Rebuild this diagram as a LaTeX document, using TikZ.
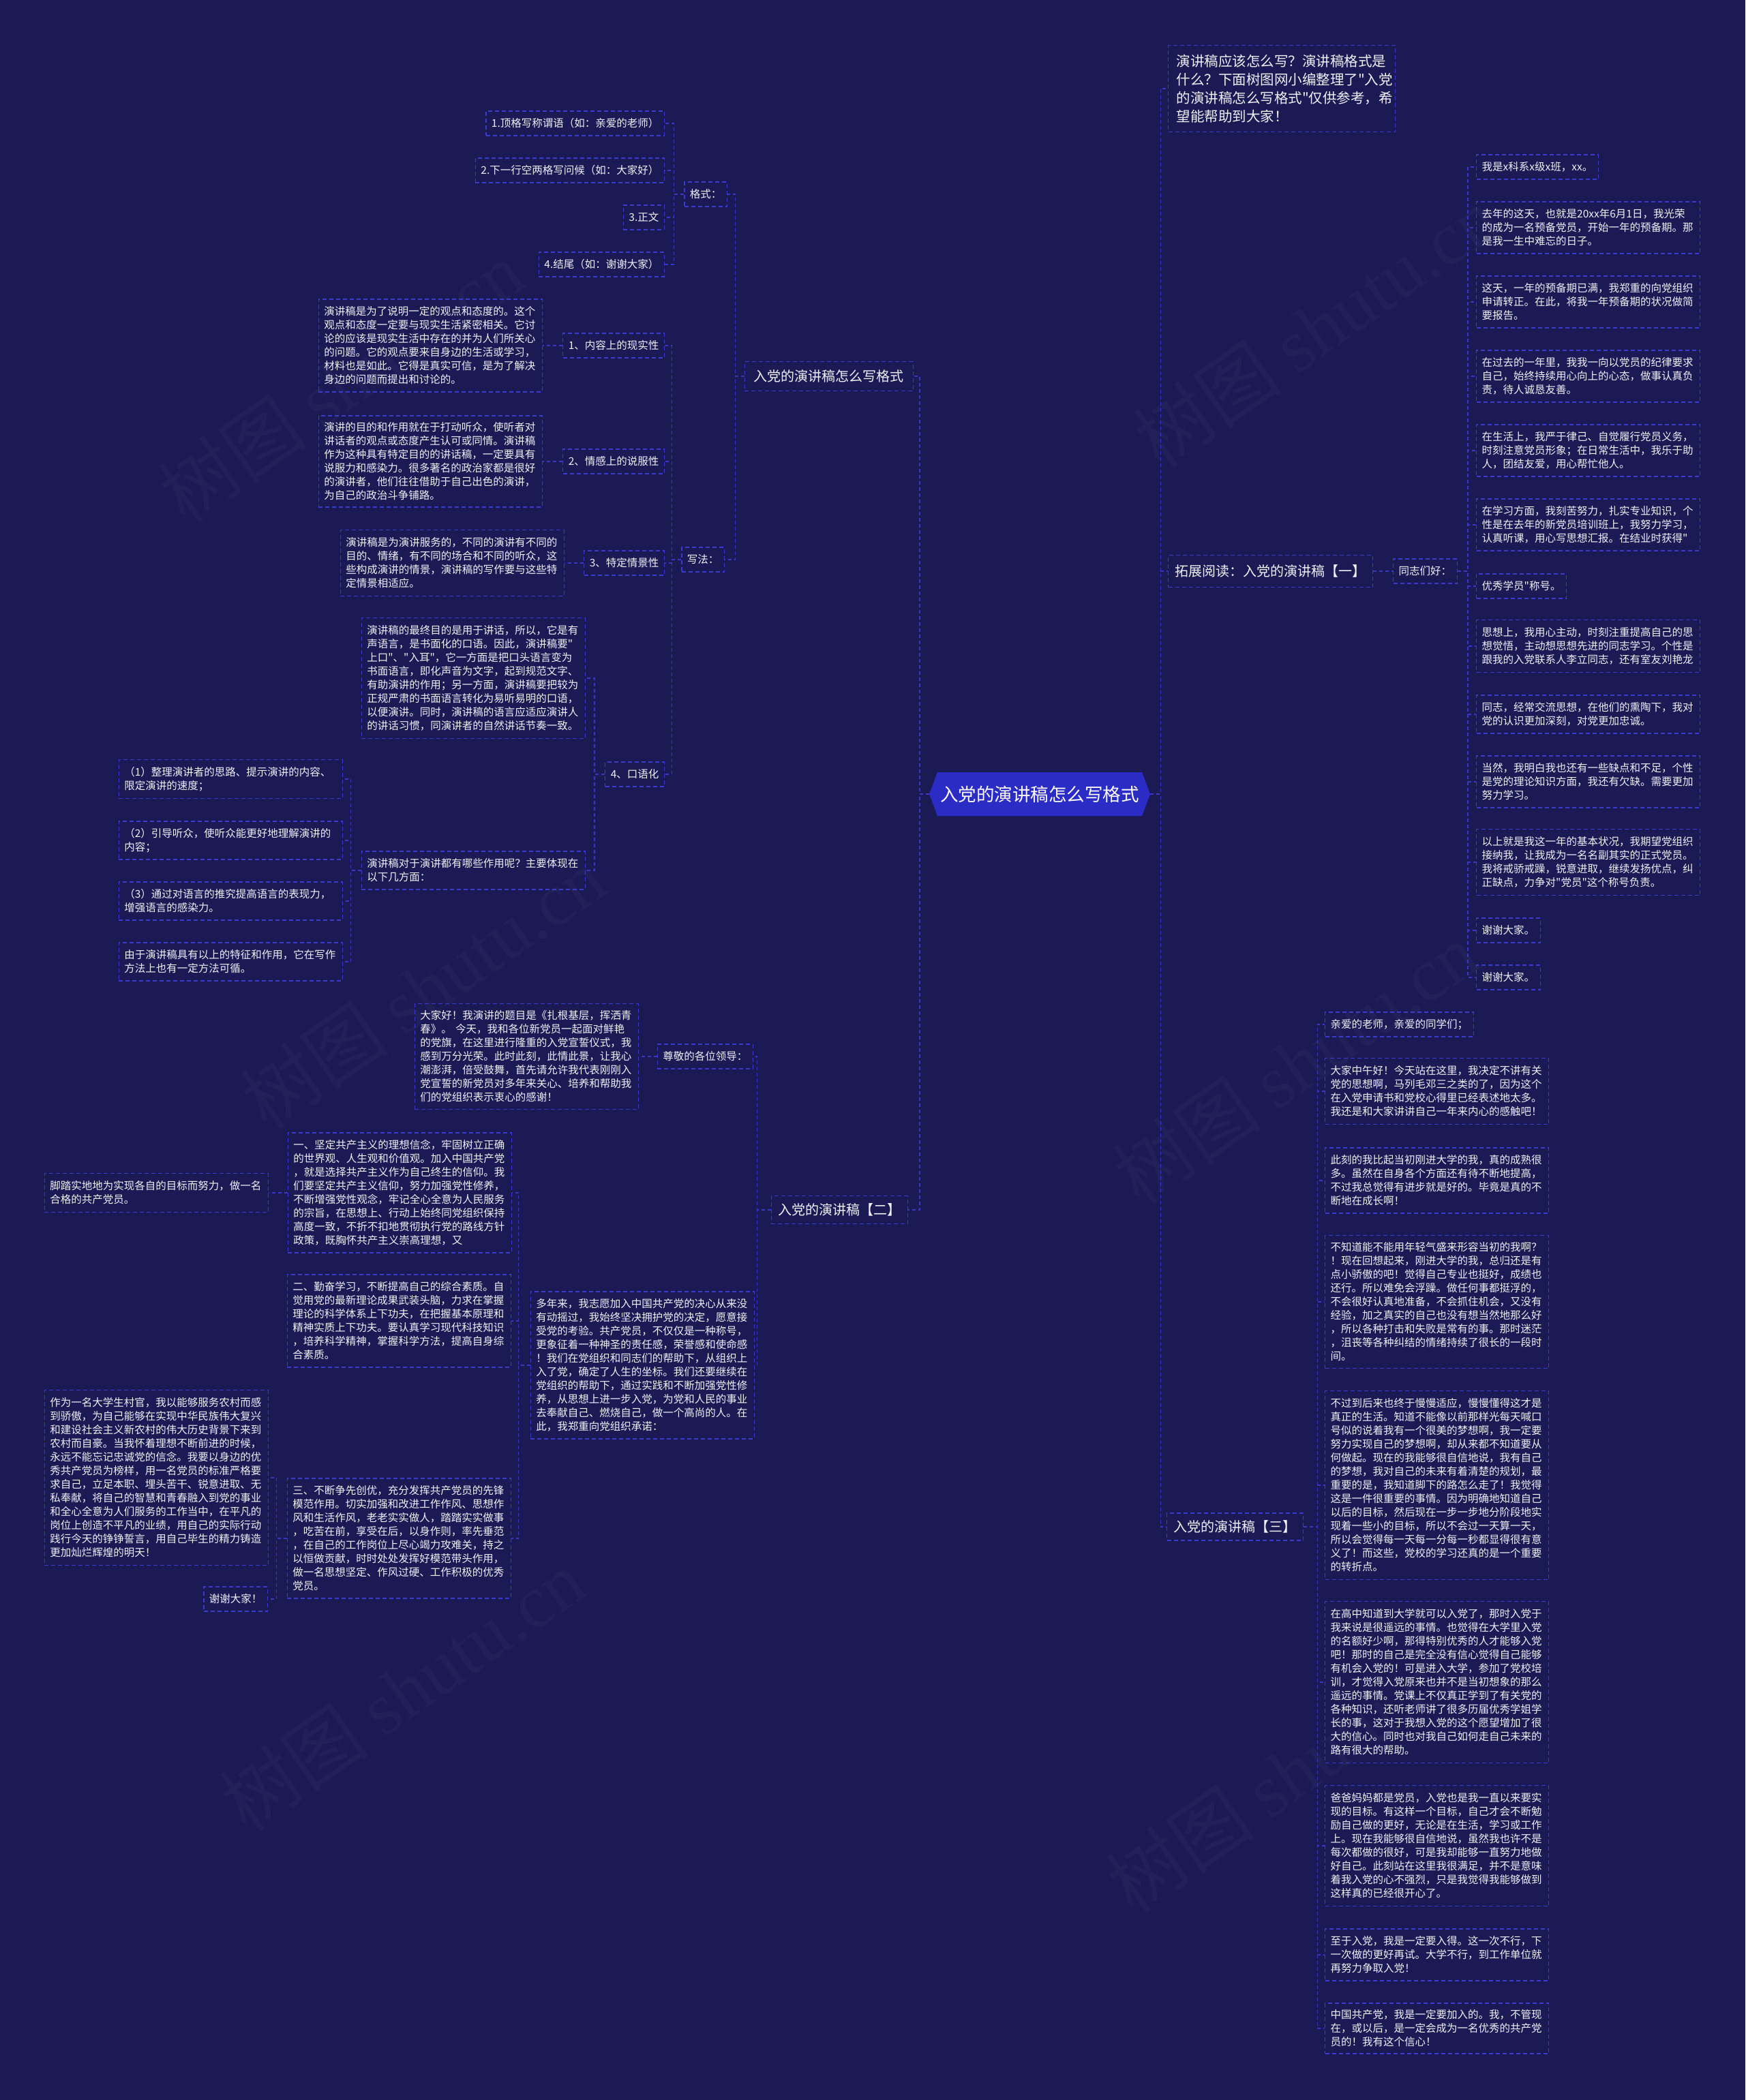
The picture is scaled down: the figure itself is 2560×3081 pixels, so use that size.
\documentclass[tikz,border=0pt]{standalone}
\usepackage{fontspec}
\setmainfont{Noto Sans CJK SC}[Ligatures=TeXOff]
\newfontfamily\wmlatin{Liberation Serif}
\usetikzlibrary{shapes.symbols}
\definecolor{bgc}{HTML}{1B1A55}
\definecolor{boxc}{HTML}{3B3BCF}
\definecolor{linec}{HTML}{3838C4}
\definecolor{txtc}{HTML}{F0F0F6}
\definecolor{ctrfill}{HTML}{2B2BC6}
\tikzset{
 tbox/.style={draw=boxc, line width=1.3pt, dash pattern=on 6pt off 4pt, text=txtc, inner xsep=8pt, inner ysep=3pt, font=\fontsize{15.5pt}{20pt}\selectfont, align=left},
 lbox/.style={tbox, anchor=east},
 rbox/.style={tbox, anchor=west},
 para/.style={text width=312pt, minimum height=#1},
 one/.style={minimum height=36pt},
 big/.style={font=\fontsize{20pt}{26pt}\selectfont, inner xsep=10pt},
 conn/.style={draw=linec, line width=1.4pt, dash pattern=on 5pt off 4pt},
 wm/.style={text=white, text opacity=0.028, rotate=35, font=\fontsize{110pt}{110pt}\selectfont}
}
\begin{document}
\begin{tikzpicture}[x=1pt,y=-1pt]
\fill[bgc] (0,0) rectangle (2560,3081);
\path[use as bounding box] (0,0) rectangle (2560,3081);
% watermarks
\node[wm] (wm1) at (500,560) {树图 {\wmlatin shutu.cn}};
\node[wm] (wm2) at (1930,480) {树图 {\wmlatin shutu.cn}};
\node[wm] (wm3) at (620,1450) {树图 {\wmlatin shutu.cn}};
\node[wm] (wm4) at (1900,1560) {树图 {\wmlatin shutu.cn}};
\node[wm] (wm5) at (590,2480) {树图 {\wmlatin shutu.cn}};
\node[wm] (wm6) at (1890,2600) {树图 {\wmlatin shutu.cn}};

% center
\node[signal, signal to=west and east, signal pointer angle=139, fill=ctrfill, draw=none, text=white, font=\fontsize{26.5pt}{30pt}\selectfont, minimum width=324pt, minimum height=64pt, inner xsep=2pt] (C) at (1525,1165) {入党的演讲稿怎么写格式};

% ===== left branch 1 =====
\node[lbox,big,minimum height=43pt,minimum width=247pt] (A1) at (1340,552) {入党的演讲稿怎么写格式};
\node[lbox,one] (F) at (1067,285) {格式：};
\node[lbox,one] (F1) at (975,181) {1.顶格写称谓语（如：亲爱的老师）};
\node[lbox,one] (F2) at (975,250) {2.下一行空两格写问候（如：大家好）};
\node[lbox,one] (F3) at (975,319) {3.正文};
\node[lbox,one] (F4) at (975,388) {4.结尾（如：谢谢大家）};
\node[lbox,one] (W) at (1063,821) {写法：};
\node[lbox,one] (W1) at (975,507) {1、内容上的现实性};
\node[lbox,para=136pt] (T1) at (796,507) {演讲稿是为了说明一定的观点和态度的。这个\\观点和态度一定要与现实生活紧密相关。它讨\\论的应该是现实生活中存在的并为人们所关心\\的问题。它的观点要来自身边的生活或学习，\\材料也是如此。它得是真实可信，是为了解决\\身边的问题而提出和讨论的。};
\node[lbox,one] (W2) at (975,677) {2、情感上的说服性};
\node[lbox,para=134pt] (T2) at (796,677) {演讲的目的和作用就在于打动听众，使听者对\\讲话者的观点或态度产生认可或同情。演讲稿\\作为这种具有特定目的的讲话稿，一定要具有\\说服力和感染力。很多著名的政治家都是很好\\的演讲者，他们往往借助于自己出色的演讲，\\为自己的政治斗争铺路。};
\node[lbox,one] (W3) at (975,826) {3、特定情景性};
\node[lbox,para=97pt] (T3) at (828,826) {演讲稿是为演讲服务的，不同的演讲有不同的\\目的、情绪，有不同的场合和不同的听众，这\\些构成演讲的情景，演讲稿的写作要与这些特\\定情景相适应。};
\node[lbox,one] (W4) at (975,1136) {4、口语化};
\node[lbox,para=177pt] (T4a) at (859,995) {演讲稿的最终目的是用于讲话，所以，它是有\\声语言，是书面化的口语。因此，演讲稿要"\\上口"、"入耳"，它一方面是把口头语言变为\\书面语言，即化声音为文字，起到规范文字、\\有助演讲的作用；另一方面，演讲稿要把较为\\正规严肃的书面语言转化为易听易明的口语，\\以便演讲。同时，演讲稿的语言应适应演讲人\\的讲话习惯，同演讲者的自然讲话节奏一致。};
\node[lbox,para=56pt] (T4b) at (859,1277) {演讲稿对于演讲都有哪些作用呢？主要体现在\\以下几方面：};
\node[lbox,para=57pt] (U1) at (503,1143) {（1）整理演讲者的思路、提示演讲的内容、\\限定演讲的速度；};
\node[lbox,para=56pt] (U2) at (503,1233) {（2）引导听众，使听众能更好地理解演讲的\\内容；};
\node[lbox,para=56pt] (U3) at (503,1322) {（3）通过对语言的推究提高语言的表现力，\\增强语言的感染力。};
\node[lbox,para=56pt] (U4) at (503,1411) {由于演讲稿具有以上的特征和作用，它在写作\\方法上也有一定方法可循。};

% ===== left branch 2 =====
\node[lbox,big,minimum height=41pt] (A2) at (1332,1775) {入党的演讲稿【二】};
\node[lbox,one] (R) at (1105,1550) {尊敬的各位领导：};
\node[lbox,para=155pt] (S) at (937,1550) {大家好！我演讲的题目是《扎根基层，挥洒青\\春》。 今天，我和各位新党员一起面对鲜艳\\的党旗，在这里进行隆重的入党宣誓仪式，我\\感到万分光荣。此时此刻，此情此景，让我心\\潮澎湃，倍受鼓舞，首先请允许我代表刚刚入\\党宣誓的新党员对多年来关心、培养和帮助我\\们的党组织表示衷心的感谢！};
\node[lbox,para=216pt] (M) at (1107,2003) {多年来，我志愿加入中国共产党的决心从来没\\有动摇过，我始终坚决拥护党的决定，愿意接\\受党的考验。共产党员，不仅仅是一种称号，\\更象征着一种神圣的责任感，荣誉感和使命感\\！我们在党组织和同志们的帮助下，从组织上\\入了党，确定了人生的坐标。我们还要继续在\\党组织的帮助下，通过实践和不断加强党性修\\养，从思想上进一步入党，为党和人民的事业\\去奉献自己、燃烧自己，做一个高尚的人。在\\此，我郑重向党组织承诺：};
\node[lbox,para=176pt] (M1) at (751,1750) {一、坚定共产主义的理想信念，牢固树立正确\\的世界观、人生观和价值观。加入中国共产党\\，就是选择共产主义作为自己终生的信仰。我\\们要坚定共产主义信仰，努力加强党性修养，\\不断增强党性观念，牢记全心全意为人民服务\\的宗旨，在思想上、行动上始终同党组织保持\\高度一致，不折不扣地贯彻执行党的路线方针\\政策，既胸怀共产主义崇高理想，又};
\node[lbox,para=57pt] (M1a) at (394,1750) {脚踏实地地为实现各自的目标而努力，做一名\\合格的共产党员。};
\node[lbox,para=136pt] (M2) at (750,1938) {二、勤奋学习，不断提高自己的综合素质。自\\觉用党的最新理论成果武装头脑，力求在掌握\\理论的科学体系上下功夫，在把握基本原理和\\精神实质上下功夫。要认真学习现代科技知识\\，培养科学精神，掌握科学方法，提高自身综\\合素质。};
\node[lbox,para=176pt] (M3) at (750,2257) {三、不断争先创优，充分发挥共产党员的先锋\\模范作用。切实加强和改进工作作风、思想作\\风和生活作风，老老实实做人，踏踏实实做事\\，吃苦在前，享受在后，以身作则，率先垂范\\，在自己的工作岗位上尽心竭力攻难关，持之\\以恒做贡献，时时处处发挥好模范带头作用，\\做一名思想坚定、作风过硬、工作积极的优秀\\党员。};
\node[lbox,para=257pt] (M3a) at (394,2168) {作为一名大学生村官，我以能够服务农村而感\\到骄傲，为自己能够在实现中华民族伟大复兴\\和建设社会主义新农村的伟大历史背景下来到\\农村而自豪。当我怀着理想不断前进的时候，\\永远不能忘记忠诚党的信念。我要以身边的优\\秀共产党员为榜样，用一名党员的标准严格要\\求自己，立足本职、埋头苦干、锐意进取、无\\私奉献，将自己的智慧和青春融入到党的事业\\和全心全意为人们服务的工作当中，在平凡的\\岗位上创造不平凡的业绩，用自己的实际行动\\践行今天的铮铮誓言，用自己毕生的精力铸造\\更加灿烂辉煌的明天！};
\node[lbox,one] (M3b) at (393,2346) {谢谢大家！};

% ===== right side =====
\node[rbox,minimum height=127pt,text width=309pt,inner xsep=12pt,font=\fontsize{20.5pt}{26.8pt}\selectfont] (B0) at (1713,130) {演讲稿应该怎么写？演讲稿格式是\\什么？下面树图网小编整理了"入党\\的演讲稿怎么写格式"仅供参考，希\\望能帮助到大家！};
\node[rbox,big,minimum height=47pt] (B1) at (1713,838) {拓展阅读：入党的演讲稿【一】};
\node[rbox,one] (G) at (2043,838) {同志们好：};
\node[rbox,one] (c1) at (2165,245) {我是x科系x级x班，xx。};
\node[rbox,para=76pt] (c2) at (2165,334) {去年的这天，也就是20xx年6月1日，我光荣\\的成为一名预备党员，开始一年的预备期。那\\是我一生中难忘的日子。};
\node[rbox,para=76pt] (c3) at (2165,443) {这天，一年的预备期已满，我郑重的向党组织\\申请转正。在此，将我一年预备期的状况做简\\要报告。};
\node[rbox,para=76pt] (c4) at (2165,552) {在过去的一年里，我我一向以党员的纪律要求\\自己，始终持续用心向上的心态，做事认真负\\责，待人诚恳友善。};
\node[rbox,para=76pt] (c5) at (2165,661) {在生活上，我严于律己、自觉履行党员义务，\\时刻注意党员形象；在日常生活中，我乐于助\\人，团结友爱，用心帮忙他人。};
\node[rbox,para=76pt] (c6) at (2165,770) {在学习方面，我刻苦努力，扎实专业知识，个\\性是在去年的新党员培训班上，我努力学习，\\认真听课，用心写思想汇报。在结业时获得"};
\node[rbox,one] (c7) at (2165,860) {优秀学员"称号。};
\node[rbox,para=77pt] (c8) at (2165,948) {思想上，我用心主动，时刻注重提高自己的思\\想觉悟，主动想思想先进的同志学习。个性是\\跟我的入党联系人李立同志，还有室友刘艳龙};
\node[rbox,para=56pt] (c9) at (2165,1048) {同志，经常交流思想，在他们的熏陶下，我对\\党的认识更加深刻，对党更加忠诚。};
\node[rbox,para=76pt] (c10) at (2165,1147) {当然，我明白我也还有一些缺点和不足，个性\\是党的理论知识方面，我还有欠缺。需要更加\\努力学习。};
\node[rbox,para=97pt] (c11) at (2165,1265) {以上就是我这一年的基本状况，我期望党组织\\接纳我，让我成为一名名副其实的正式党员。\\我将戒骄戒躁，锐意进取，继续发扬优点，纠\\正缺点，力争对"党员"这个称号负责。};
\node[rbox,one] (c12) at (2165,1365) {谢谢大家。};
\node[rbox,one] (c13) at (2165,1434) {谢谢大家。};

\node[rbox,big,minimum height=40pt] (B2) at (1711,2240) {入党的演讲稿【三】};
\node[rbox,one] (d1) at (1943,1503) {亲爱的老师，亲爱的同学们；};
\node[rbox,para=97pt] (d2) at (1943,1601) {大家中午好！今天站在这里，我决定不讲有关\\党的思想啊，马列毛邓三之类的了，因为这个\\在入党申请书和党校心得里已经表述地太多。\\我还是和大家讲讲自己一年来内心的感触吧！};
\node[rbox,para=96pt] (d3) at (1943,1732) {此刻的我比起当初刚进大学的我，真的成熟很\\多。虽然在自身各个方面还有待不断地提高，\\不过我总觉得有进步就是好的。毕竟是真的不\\断地在成长啊！};
\node[rbox,para=195pt] (d4) at (1943,1910) {不知道能不能用年轻气盛来形容当初的我啊？\\！现在回想起来，刚进大学的我，总归还是有\\点小骄傲的吧！觉得自己专业也挺好，成绩也\\还行。所以难免会浮躁。做任何事都挺浮的，\\不会很好认真地准备，不会抓住机会，又没有\\经验，加之真实的自己也没有想当然地那么好\\，所以各种打击和失败是常有的事。那时迷茫\\，沮丧等各种纠结的情绪持续了很长的一段时\\间。};
\node[rbox,para=277pt] (d5) at (1943,2179) {不过到后来也终于慢慢适应，慢慢懂得这才是\\真正的生活。知道不能像以前那样光每天喊口\\号似的说着我有一个很美的梦想啊，我一定要\\努力实现自己的梦想啊，却从来都不知道要从\\何做起。现在的我能够很自信地说，我有自己\\的梦想，我对自己的未来有着清楚的规划，最\\重要的是，我知道脚下的路怎么走了！我觉得\\这是一件很重要的事情。因为明确地知道自己\\以后的目标，然后现在一步一步地分阶段地实\\现着一些小的目标，所以不会过一天算一天，\\所以会觉得每一天每一分每一秒都显得很有意\\义了！而这些，党校的学习还真的是一个重要\\的转折点。};
\node[rbox,para=237pt] (d6) at (1943,2468) {在高中知道到大学就可以入党了，那时入党于\\我来说是很遥远的事情。也觉得在大学里入党\\的名额好少啊，那得特别优秀的人才能够入党\\吧！那时的自己是完全没有信心觉得自己能够\\有机会入党的！可是进入大学，参加了党校培\\训，才觉得入党原来也并不是当初想象的那么\\遥远的事情。党课上不仅真正学到了有关党的\\各种知识，还听老师讲了很多历届优秀学姐学\\长的事，这对于我想入党的这个愿望增加了很\\大的信心。同时也对我自己如何走自己未来的\\路有很大的帮助。};
\node[rbox,para=177pt] (d7) at (1943,2708) {爸爸妈妈都是党员，入党也是我一直以来要实\\现的目标。有这样一个目标，自己才会不断勉\\励自己做的更好，无论是在生活，学习或工作\\上。现在我能够很自信地说，虽然我也许不是\\每次都做的很好，可是我却能够一直努力地做\\好自己。此刻站在这里我很满足，并不是意味\\着我入党的心不强烈，只是我觉得我能够做到\\这样真的已经很开心了。};
\node[rbox,para=76pt] (d8) at (1943,2868) {至于入党，我是一定要入得。这一次不行，下\\一次做的更好再试。大学不行，到工作单位就\\再努力争取入党！};
\node[rbox,para=74pt] (d9) at (1943,2976) {中国共产党，我是一定要加入的。我，不管现\\在，或以后，是一定会成为一名优秀的共产党\\员的！我有这个信心！};

% ===== connectors =====
\foreach \n in {A1,A2} \draw[conn] (C.west) -- ++(-14,0) |- (\n.east);
\foreach \n in {B0,B1,B2} \draw[conn] (C.east) -- ++(15,0) |- (\n.west);
\foreach \n in {F,W} \draw[conn] (A1.west) -- ++(-13,0) |- (\n.east);
\foreach \n in {F1,F2,F3,F4} \draw[conn] (F.west) -- ++(-15,0) |- (\n.east);
\foreach \n in {W1,W2,W3,W4} \draw[conn] (W.west) -- ++(-14,0) |- (\n.east);
\draw[conn] (W1.west) -- (T1.east);
\draw[conn] (W2.west) -- (T2.east);
\draw[conn] (W3.west) -- (T3.east);
\foreach \n in {T4a,T4b} \draw[conn] (W4.west) -- ++(-15,0) |- (\n.east);
\foreach \n in {U1,U2,U3,U4} \draw[conn] (T4b.west) -- ++(-15,0) |- (\n.east);
\foreach \n in {R,M} \draw[conn] (A2.west) -- ++(-20,0) |- (\n.east);
\draw[conn] (R.west) -- (S.east);
\foreach \n in {M1,M2,M3} \draw[conn] (M.west) -- ++(-17,0) |- (\n.east);
\draw[conn] (M1.west) -- (M1a.east);
\foreach \n in {M3a,M3b} \draw[conn] (M3.west) -- ++(-15,0) |- (\n.east);
\draw[conn] (B1.east) -- (G.west);
\foreach \n in {c1,c2,c3,c4,c5,c6,c7,c8,c9,c10,c11,c12,c13} \draw[conn] (G.east) -- ++(15,0) |- (\n.west);
\foreach \n in {d1,d2,d3,d4,d5,d6,d7,d8,d9} \draw[conn] (B2.east) -- ++(20,0) |- (\n.west);
\end{tikzpicture}
\end{document}
